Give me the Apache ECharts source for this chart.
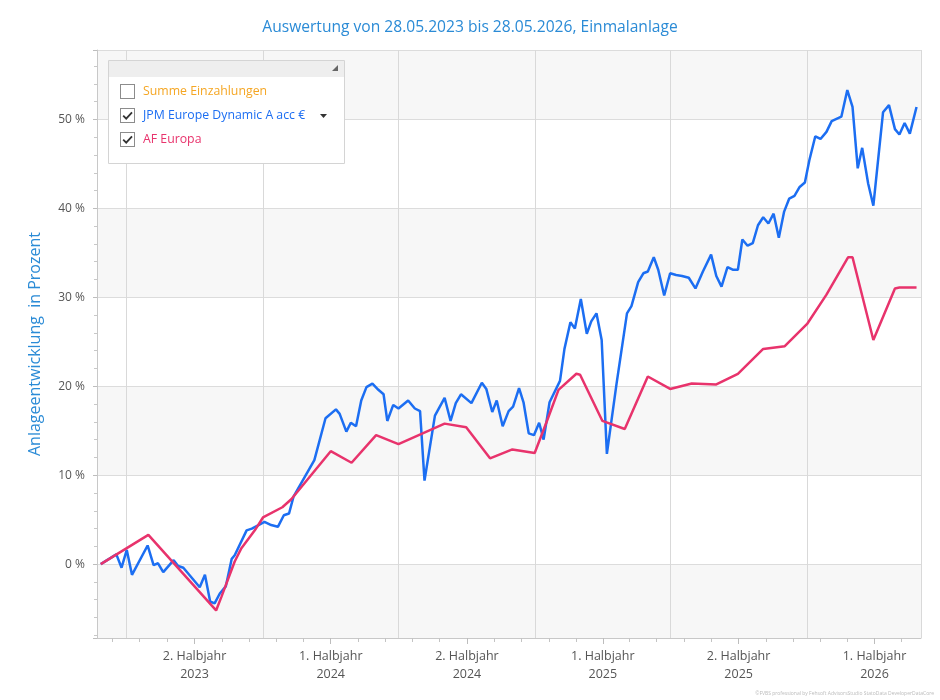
<!DOCTYPE html>
<html>
<head>
<meta charset="utf-8">
<title>Auswertung Einmalanlage</title>
<script src="https://cdn.jsdelivr.net/npm/echarts@6.0.0/dist/echarts.min.js"></script>
<style>
  html, body { margin: 0; padding: 0; background: #fff; }
  #main { width: 940px; height: 700px; }
</style>
</head>
<body>
<div id="main"></div>
<script>
var FONT = "'Open Sans', 'Noto Sans', sans-serif";

// JPM Europe Dynamic A acc € (Wertentwicklung in %)
var jpmDates = [
  '2023-05-28','2023-06-18','2023-06-25','2023-07-02','2023-07-09','2023-07-30','2023-08-07','2023-08-13',
  '2023-08-20','2023-09-03','2023-09-09','2023-09-16','2023-10-08','2023-10-15','2023-10-22','2023-10-28',
  '2023-11-04','2023-11-12','2023-11-20','2023-11-24','2023-12-10','2023-12-17','2023-12-26','2024-01-03',
  '2024-01-12','2024-01-21','2024-01-29','2024-02-05','2024-02-11','2024-03-10','2024-03-25','2024-04-08',
  '2024-04-13','2024-04-22','2024-04-28','2024-05-05','2024-05-12','2024-05-19','2024-05-27','2024-06-04',
  '2024-06-11','2024-06-16','2024-06-24','2024-07-01','2024-07-14','2024-07-23','2024-07-30','2024-08-05',
  '2024-08-19','2024-09-01','2024-09-09','2024-09-16','2024-09-23','2024-10-07','2024-10-21','2024-10-27',
  '2024-11-04','2024-11-10','2024-11-18','2024-11-26','2024-12-02','2024-12-10','2024-12-16','2024-12-23',
  '2024-12-30','2025-01-06','2025-01-12','2025-01-20','2025-02-03','2025-02-09','2025-02-17','2025-02-23',
  '2025-03-03','2025-03-11','2025-03-17','2025-03-24','2025-03-31','2025-04-07','2025-04-20','2025-05-04',
  '2025-05-10','2025-05-19','2025-05-26','2025-06-01','2025-06-09','2025-06-15','2025-06-23','2025-07-01',
  '2025-07-09','2025-07-17','2025-07-26','2025-08-04','2025-08-14','2025-08-25','2025-09-01','2025-09-08',
  '2025-09-16','2025-09-23','2025-09-30','2025-10-06','2025-10-13','2025-10-20','2025-10-27','2025-11-03',
  '2025-11-10','2025-11-17','2025-11-24','2025-12-01','2025-12-08','2025-12-15','2025-12-22','2025-12-29',
  '2026-01-04','2026-01-12','2026-01-19','2026-01-27','2026-02-03','2026-02-16','2026-02-24','2026-03-03',
  '2026-03-10','2026-03-16','2026-03-24','2026-03-31','2026-04-13','2026-04-21','2026-04-29','2026-05-05',
  '2026-05-12','2026-05-19','2026-05-28'
];
var jpmValues = [
  0, 1.1, -0.4, 1.6, -1.2, 2.1, -0.1, 0.1,
  -0.9, 0.45, -0.2, -0.4, -2.6, -1.2, -4.2, -4.4,
  -3.3, -2.5, 0.6, 1.0, 3.8, 4.0, 4.4, 4.75,
  4.4, 4.2, 5.5, 5.7, 7.6, 11.7, 16.4, 17.4,
  16.9, 14.9, 15.9, 15.5, 18.4, 19.9, 20.3, 19.6,
  19.1, 16.1, 17.9, 17.5, 18.4, 17.5, 17.2, 9.4,
  16.7, 18.7, 16.1, 18.1, 19.1, 18.1, 20.4, 19.7,
  17.1, 18.4, 15.5, 17.2, 17.7, 19.8, 18.2, 14.7,
  14.5, 15.9, 14.0, 18.2, 20.6, 24.2, 27.2, 26.5,
  29.8, 25.9, 27.3, 28.2, 25.2, 12.4, 20.3, 28.2,
  29.0, 31.7, 32.7, 32.9, 34.5, 33.1, 30.2, 32.7,
  32.5, 32.4, 32.2, 31.0, 32.9, 34.8, 32.4, 31.2,
  33.4, 33.1, 33.1, 36.5, 35.8, 36.1, 38.1, 39.0,
  38.3, 39.4, 36.7, 39.6, 41.1, 41.4, 42.4, 42.9,
  45.4, 48.1, 47.8, 48.6, 49.8, 50.3, 53.3, 51.4,
  44.5, 46.8, 42.8, 40.3, 50.8, 51.6, 48.9, 48.3,
  49.6, 48.4, 51.4
];

// AF Europa
var afDates = [
  '2023-05-28','2023-07-31','2023-10-30','2023-11-06','2023-11-24','2023-12-03','2023-12-21','2024-01-01',
  '2024-01-27','2024-02-08','2024-04-01','2024-04-29','2024-06-01','2024-07-01','2024-09-01','2024-09-30',
  '2024-11-01','2024-12-01','2024-12-31','2025-01-17','2025-02-01','2025-02-25','2025-03-02','2025-04-01',
  '2025-05-01','2025-06-01','2025-07-01','2025-07-30','2025-09-01','2025-09-30','2025-11-03','2025-12-02',
  '2026-01-01','2026-01-27','2026-02-25','2026-03-03','2026-03-31','2026-04-29','2026-05-05','2026-05-28'
];
var afValues = [
  0, 3.3, -5.2, -3.7, 0.3, 1.8, 3.8, 5.25,
  6.4, 7.3, 12.7, 11.4, 14.5, 13.5, 15.8, 15.4,
  11.9, 12.9, 12.5, 16.2, 19.6, 21.4, 21.3, 16.1,
  15.2, 21.1, 19.7, 20.3, 20.2, 21.4, 24.2, 24.5,
  27.0, 30.3, 34.5, 34.5, 25.2, 31.0, 31.1, 31.1
];

// Halbjahre (Achse)
var halfStarts = ['2023-01-01','2023-07-01','2024-01-01','2024-07-01','2025-01-01','2025-07-01','2026-01-01','2026-07-01'];
var halfLabels = ['1. Halbjahr\n2023','2. Halbjahr\n2023','1. Halbjahr\n2024','2. Halbjahr\n2024',
                  '1. Halbjahr\n2025','2. Halbjahr\n2025','1. Halbjahr\n2026'];

var seriesNames = ['Summe Einzahlungen', 'JPM Europe Dynamic A acc €', 'AF Europa'];
var seriesColors = ['#f5a623', '#1c6ef2', '#e8336c'];

function ts(s) {
  var p = s.split('-');
  return +new Date(+p[0], +p[1] - 1, +p[2]);
}
function zip(d, v) {
  return d.map(function (x, i) { return [ts(x), v[i]]; });
}

var axisMin = ts('2023-05-23'), axisMax = ts('2026-06-03');

// Teilstriche: 5 je Halbjahr, der mittlere trägt die Beschriftung
var splitTicks = [], midTicks = [], subTicks = [], midLabels = [];
for (var i = 0; i < halfStarts.length - 1; i++) {
  var a = ts(halfStarts[i]), b = ts(halfStarts[i + 1]);
  if (a > axisMin) splitTicks.push(a);
  for (var k = 0; k < 5; k++) {
    var t = Math.round(a + (k + 0.5) / 5 * (b - a));
    if (t < axisMin || t > axisMax) continue;
    if (k === 2) { midTicks.push(t); midLabels.push(halfLabels[i]); }
    else subTicks.push(t);
  }
}
splitTicks.push(axisMax);

function halfLabel(val) {
  for (var j = 0; j < midTicks.length; j++) {
    if (Math.abs(midTicks[j] - val) < 86400000) return midLabels[j];
  }
  return '';
}

function box(checked) {
  var svg = "<svg xmlns='http://www.w3.org/2000/svg' width='15' height='15'>" +
    "<rect x='0.5' y='0.5' width='14' height='14' fill='white' stroke='#8c8c8c'/>" +
    (checked ? "<path d='M3.2 7.6 L6.2 10.6 L12 4.4' fill='none' stroke='#333' stroke-width='1.8'/>" : '') +
    "</svg>";
  return 'image://data:image/svg+xml;utf8,' + encodeURIComponent(svg);
}

var myChart = echarts.init(document.getElementById('main'));

function extraAxis(tick, split) {
  return {
    type: 'value', min: axisMin, max: axisMax, position: 'bottom', scale: true,
    axisLine: { show: false, onZero: false },
    axisLabel: { show: false },
    axisTick: tick,
    splitLine: split
  };
}

var option = {
  animation: false,
  textStyle: { fontFamily: FONT },
  title: {
    text: 'Auswertung von 28.05.2023 bis 28.05.2026, Einmalanlage',
    left: 'center', top: 20, padding: 0,
    textStyle: { color: '#2b8bd6', fontSize: 15.6, fontWeight: 'normal', fontFamily: FONT }
  },
  legend: {
    orient: 'vertical', left: 120, top: 84, padding: 0,
    itemWidth: 15, itemHeight: 15, itemGap: 9,
    inactiveColor: seriesColors[0],
    selected: { 'Summe Einzahlungen': false },
    textStyle: { fontSize: 12.3, padding: [0, 0, 0, 3], fontFamily: FONT },
    data: seriesNames.map(function (n, i) {
      return { name: n, icon: box(i > 0), textStyle: { color: seriesColors[i] } };
    })
  },
  grid: { left: 97, right: 19, top: 50, bottom: 62 },
  xAxis: [
    {
      type: 'value', min: axisMin, max: axisMax, position: 'bottom', scale: true,
      axisLine: { show: true, onZero: false, lineStyle: { color: '#c8c8c8' } },
      axisTick: { show: true, customValues: midTicks, length: 6, lineStyle: { color: '#bdbdbd' } },
      axisLabel: {
        customValues: midTicks, formatter: halfLabel,
        color: '#555', fontSize: 12.5, lineHeight: 18, margin: 9, fontFamily: FONT
      },
      splitLine: { show: false }
    },
    extraAxis({ show: true, customValues: subTicks, length: 4, lineStyle: { color: '#c4c4c4' } }, { show: false }),
    extraAxis({ show: false, customValues: splitTicks }, { show: true, lineStyle: { color: '#d9d9d9' } })
  ],
  yAxis: {
    type: 'value', min: -8.3, max: 57.8, splitNumber: 6,
    name: 'Anlageentwicklung  in Prozent', nameLocation: 'middle', nameGap: 54,
    nameTextStyle: { color: '#2b8bd6', fontSize: 16, fontFamily: FONT },
    axisLine: { show: true, lineStyle: { color: '#c8c8c8' } },
    axisTick: { show: true, length: 4, lineStyle: { color: '#bdbdbd' } },
    minorTick: { show: true, splitNumber: 5, length: 3, lineStyle: { color: '#c8c8c8' } },
    axisLabel: {
      color: '#555', fontSize: 12, margin: 12, showMinLabel: false, showMaxLabel: false, fontFamily: FONT,
      formatter: function (v) { return Math.abs(v % 10) < 1e-6 ? v + ' %' : ''; }
    },
    splitLine: { lineStyle: { color: '#dcdcdc' } },
    splitArea: { show: true, areaStyle: { color: ['#f7f7f7', '#ffffff'] } }
  },
  graphic: [
    { type: 'rect', z: 3, shape: { x: 108.5, y: 60.5, width: 236, height: 103 },
      style: { fill: '#fff', stroke: '#d4d4d4', lineWidth: 1 } },
    { type: 'rect', z: 3, shape: { x: 109, y: 61, width: 235, height: 16 },
      style: { fill: '#eeeeee' } },
    { type: 'polygon', z: 3, shape: { points: [[338, 65], [338, 71], [332, 71]] },
      style: { fill: '#666' } },
    { type: 'polygon', z: 5, shape: { points: [[320, 114], [327, 114], [323.5, 118]] },
      style: { fill: '#333' } },
    { type: 'text', right: 6, bottom: 4, z: 3,
      style: { text: '©FVBS professional by Fehsoft AdvisorsStudio StatoData DeveloperDataCore',
               fontSize: 5, fill: '#bbbbbb', fontFamily: FONT } }
  ],
  series: [
    { name: seriesNames[0], type: 'line', data: [], symbol: 'none', color: seriesColors[0] },
    { name: seriesNames[1], type: 'line', data: zip(jpmDates, jpmValues), symbol: 'none',
      color: seriesColors[1], lineStyle: { width: 2.5, color: seriesColors[1] } },
    { name: seriesNames[2], type: 'line', data: zip(afDates, afValues), symbol: 'none',
      color: seriesColors[2], lineStyle: { width: 2.5, color: seriesColors[2] } }
  ]
};

myChart.setOption(option);
</script>
</body>
</html>
